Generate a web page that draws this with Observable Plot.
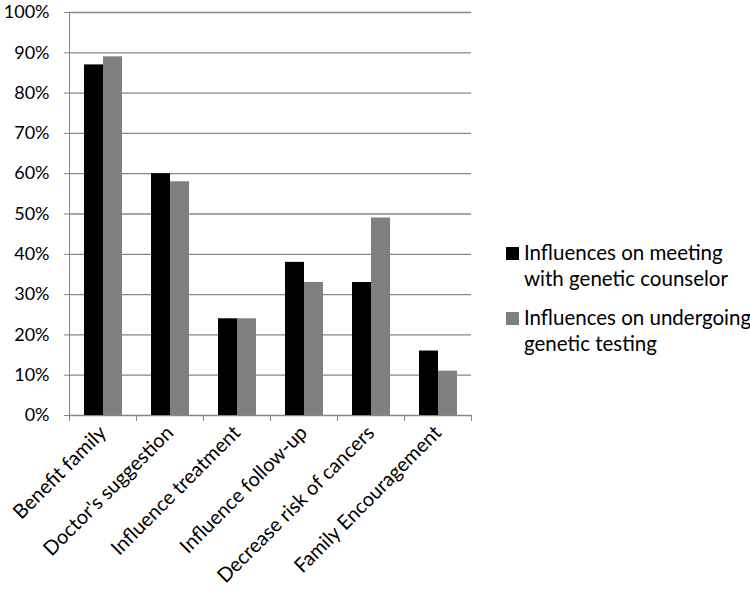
<!DOCTYPE html>
<html><head><meta charset="utf-8">
<script src="https://cdn.jsdelivr.net/npm/d3@7"></script>
<script src="https://cdn.jsdelivr.net/npm/@observablehq/plot@0.6"></script>
<style>
body{margin:0;background:#fff;font-family:Lato,"Noto Sans",sans-serif;}
#wrap{position:relative;width:750px;height:595px;background:#fff;overflow:hidden;}
#chart{position:absolute;left:0;top:0;}
#legend{position:absolute;left:506px;top:239px;font-size:20.5px;color:#000;line-height:26px;white-space:nowrap;width:244px;}
.item{display:flex;align-items:flex-start;margin-bottom:13px;}
.sw{width:13px;height:13px;margin-top:8px;margin-right:5px;flex:none;}
</style></head>
<body><div id="wrap"><div id="chart"></div><div id="legend"></div></div>
<script>
const categories = ["Benefit family","Doctor's suggestion","Influence treatment","Influence follow-up","Decrease risk of cancers","Family Encouragement"];
const seriesNames = ["Influences on meeting with genetic counselor","Influences on undergoing genetic testing"];
const legendLines = [["Influences on meeting","with genetic counselor"],["Influences on undergoing","genetic testing"]];
const counselorValues = [87,60,24,38,33,16];
const testingValues = [89,58,24,33,49,11];
const seriesColors = ["#000000","#808080"];
const yTicks = d3.range(0,101,10);

const data = categories.flatMap((c,i)=>[
  {category:c, series:seriesNames[0], value:counselorValues[i]},
  {category:c, series:seriesNames[1], value:testingValues[i]}
]);

const height = 595, marginTop = 12, marginBottom = 180;
const plotH = height - marginTop - marginBottom;
const gridColor = "#868686";

const chart = Plot.plot({
  width: 480, height, marginTop, marginBottom, marginLeft: 69, marginRight: 9,
  style: {fontFamily: "Lato, 'Noto Sans', sans-serif", fontSize: "20px", color: "#000", background: "#fff", overflow: "visible"},
  fx: {domain: categories, padding: 0, label: null},
  x: {domain: seriesNames, paddingInner: 0, paddingOuter: 0.73, axis: null},
  y: {domain: [0,100], label: null},
  color: {domain: seriesNames, range: seriesColors},
  marks: [
    Plot.gridY(yTicks, {stroke: gridColor, strokeOpacity: 1, strokeWidth: 1.3}),
    Plot.barY(data, {fx: "category", x: "series", y: "value", fill: "series"}),
    Plot.axisY(yTicks, {tickFormat: d => d + "%", tickSize: 5, tickPadding: 15, stroke: gridColor, label: null, fontSize: 18}),
    Plot.axisFx({anchor: "bottom", tickRotate: -45, tickSize: 0, tickPadding: 14, label: null, fontSize: 20}),
    Plot.frame({anchor: "left", insetTop: plotH, insetBottom: -5, stroke: gridColor}),
    Plot.frame({anchor: "right", insetTop: plotH, insetBottom: -5, stroke: gridColor}),
    Plot.frame({anchor: "left", facet: "super", insetBottom: -5, stroke: gridColor})
  ]
});
document.getElementById("chart").appendChild(chart);

const legend = document.getElementById("legend");
seriesNames.forEach((s,i)=>{
  const it = document.createElement("div"); it.className = "item";
  const sw = document.createElement("div"); sw.className = "sw"; sw.style.background = seriesColors[i];
  const tx = document.createElement("div"); tx.innerHTML = legendLines[i].join("<br>");
  it.appendChild(sw); it.appendChild(tx); legend.appendChild(it);
});
</script></body></html>
